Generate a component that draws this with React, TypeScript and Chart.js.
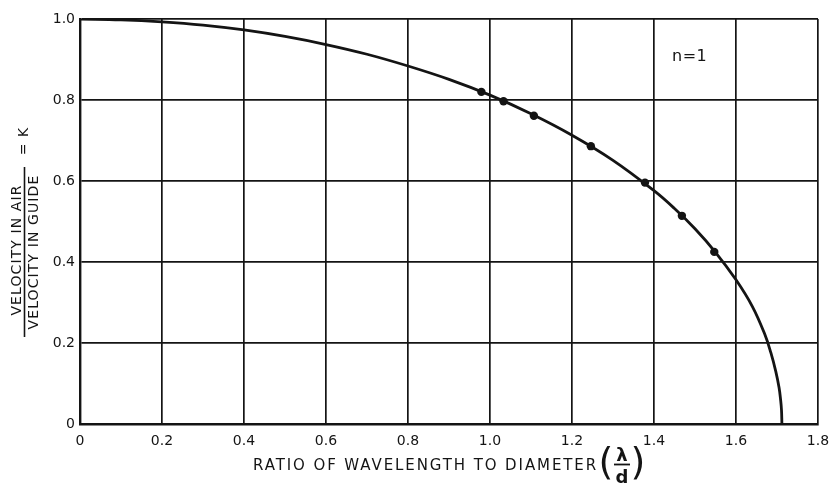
import React, { useEffect, useRef } from "react";
import { Chart, registerables } from "chart.js";

Chart.register(...registerables);

// Smooth theoretical curve
const curveX = [0, 0.1, 0.2, 0.3, 0.4, 0.5, 0.6, 0.7, 0.8, 0.9, 1.0, 1.1, 1.2, 1.3, 1.4, 1.45, 1.5, 1.55, 1.6, 1.64, 1.67, 1.685, 1.697, 1.705, 1.709, 1.711, 1.712];
const curveY = [1.0, 0.998, 0.993, 0.985, 0.973, 0.957, 0.937, 0.913, 0.884, 0.851, 0.812, 0.766, 0.713, 0.651, 0.576, 0.532, 0.482, 0.424, 0.356, 0.29, 0.222, 0.176, 0.13, 0.09, 0.058, 0.034, 0.0];

// Measured points
const pointX = [0.979, 1.033, 1.107, 1.246, 1.378, 1.468, 1.547];
const pointY = [0.82, 0.797, 0.761, 0.686, 0.596, 0.514, 0.425];

const xTicks = [0, 0.2, 0.4, 0.6, 0.8, 1.0, 1.2, 1.4, 1.6, 1.8];
const yTicks = [0, 0.2, 0.4, 0.6, 0.8, 1.0];

const xTitle = "RATIO OF WAVELENGTH TO DIAMETER";
const yNumerator = "VELOCITY IN AIR";
const yDenominator = "VELOCITY IN GUIDE";
const yRight = "= K";
const annotation = "n=1";
const annotationAt = { x: 1.487, y: 0.906 };

const FONT = "'DejaVu Sans', sans-serif";
const INK = "#141414";

const titlesPlugin = {
  id: "titles",
  afterDraw(chart: any) {
    const ctx = chart.ctx as CanvasRenderingContext2D;
    ctx.save();
    ctx.fillStyle = INK;
    ctx.strokeStyle = INK;

    // n=1 annotation
    ctx.font = `16px ${FONT}`;
    (ctx as any).letterSpacing = "0.5px";
    ctx.textAlign = "center";
    ctx.textBaseline = "middle";
    const ax = chart.scales.x.getPixelForValue(annotationAt.x);
    const ay = chart.scales.y.getPixelForValue(annotationAt.y);
    ctx.fillText(annotation, ax, ay);

    // X title
    ctx.font = `15px ${FONT}`;
    (ctx as any).letterSpacing = "1.9px";
    ctx.textAlign = "left";
    ctx.textBaseline = "middle";
    ctx.fillText(xTitle, 253, 466);
    (ctx as any).letterSpacing = "0px";
    // (λ/d)
    const fx = 622;
    ctx.font = `bold 18px ${FONT}`;
    ctx.textAlign = "center";
    ctx.textBaseline = "alphabetic";
    ctx.fillText("λ", fx, 461);
    ctx.fillText("d", fx, 483);
    ctx.lineWidth = 1.8;
    ctx.beginPath();
    ctx.moveTo(fx - 8, 464.5);
    ctx.lineTo(fx + 8, 464.5);
    ctx.stroke();
    ctx.font = `38px ${FONT}`;
    ctx.textBaseline = "middle";
    ctx.fillText("(", fx - 16, 464);
    ctx.fillText(")", fx + 16, 464);

    // Y title: fraction, rotated
    ctx.save();
    ctx.translate(24, 252);
    ctx.rotate(-Math.PI / 2);
    ctx.font = `14px ${FONT}`;
    (ctx as any).letterSpacing = "1.1px";
    ctx.textAlign = "center";
    ctx.textBaseline = "alphabetic";
    ctx.fillText(yNumerator, 2, -3);
    ctx.textBaseline = "top";
    ctx.fillText(yDenominator, 0, 3);
    ctx.lineWidth = 1.6;
    ctx.beginPath();
    ctx.moveTo(-85, 0.5);
    ctx.lineTo(85, 0.5);
    ctx.stroke();
    ctx.textBaseline = "middle";
    ctx.textAlign = "center";
    ctx.fillText(yRight, 111, 0);
    ctx.restore();

    ctx.restore();
  },
};

export default function App() {
  const ref = useRef<HTMLCanvasElement | null>(null);

  useEffect(() => {
    if (!ref.current) return;
    const chart = new Chart(ref.current, {
      type: "scatter",
      data: {
        datasets: [
          {
            data: curveX.map((x, i) => ({ x, y: curveY[i] })),
            showLine: true,
            borderColor: INK,
            borderWidth: 2.8,
            pointRadius: 0,
            tension: 0.4,
            fill: false,
          },
          {
            data: pointX.map((x, i) => ({ x, y: pointY[i] })),
            showLine: false,
            pointRadius: 4.2,
            pointBackgroundColor: INK,
            pointBorderColor: INK,
            pointBorderWidth: 0,
          },
        ],
      },
      options: {
        animation: false,
        responsive: false,
        maintainAspectRatio: false,
        layout: { padding: { top: 19, right: 13, left: 0, bottom: 0 } },
        plugins: { legend: { display: false }, tooltip: { enabled: false } },
        scales: {
          x: {
            type: "linear",
            min: 0,
            max: 1.8,
            afterBuildTicks: (s: any) => {
              s.ticks = xTicks.map((v) => ({ value: v }));
            },
            afterFit: (s: any) => {
              s.height = 60;
              s.paddingLeft = 0;
              s.paddingRight = 0;
            },
            grid: { color: INK, lineWidth: 1.7, drawTicks: false },
            border: { color: INK, width: 2.4 },
            ticks: {
              padding: 9,
              color: INK,
              font: { family: FONT, size: 14 },
              callback: (v: any) => (Number(v) === 0 ? "0" : Number(v).toFixed(1)),
            },
          },
          y: {
            type: "linear",
            min: 0,
            max: 1.0,
            afterBuildTicks: (s: any) => {
              s.ticks = yTicks.map((v) => ({ value: v }));
            },
            afterFit: (s: any) => {
              s.width = 80;
              s.paddingTop = 0;
              s.paddingBottom = 0;
            },
            grid: { color: INK, lineWidth: 1.7, drawTicks: false },
            border: { color: INK, width: 2.4 },
            ticks: {
              padding: 5,
              color: INK,
              font: { family: FONT, size: 14 },
              callback: (v: any) => (Number(v) === 0 ? "0" : Number(v).toFixed(1)),
            },
          },
        },
      },
      plugins: [titlesPlugin],
    } as any);
    return () => chart.destroy();
  }, []);

  return (
    <div style={{ position: "absolute", left: 0, top: 0, width: 831, height: 484, background: "#fff" }}>
      <canvas ref={ref} width={831} height={484} style={{ width: 831, height: 484, display: "block" }} />
    </div>
  );
}
